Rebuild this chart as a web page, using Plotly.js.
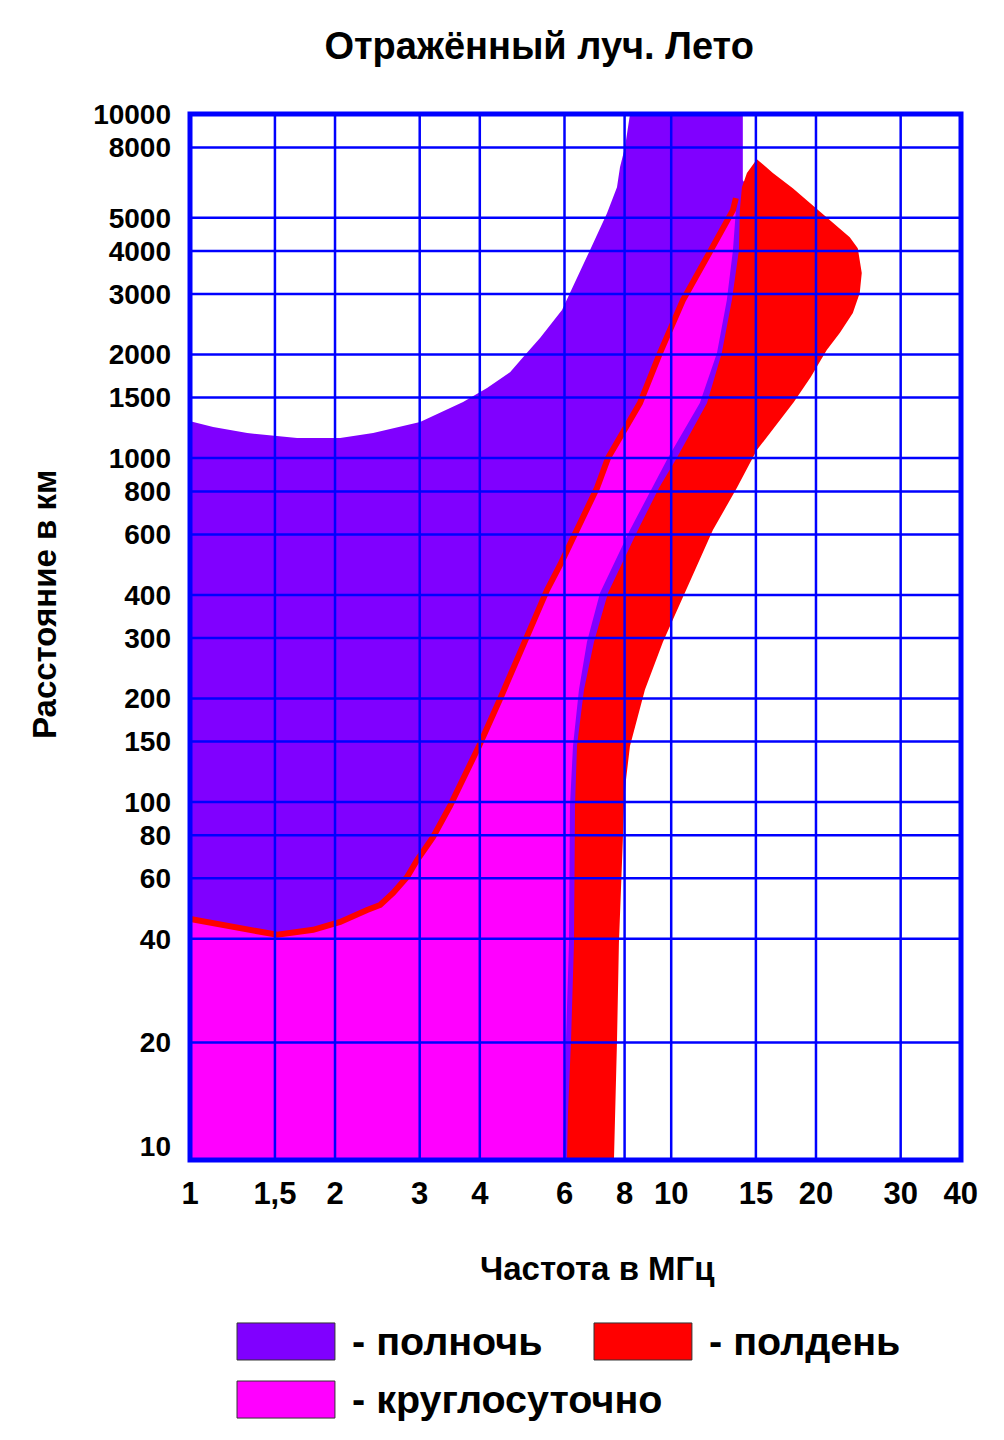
<!DOCTYPE html>
<html>
<head>
<meta charset="utf-8">
<script src="https://cdn.plot.ly/plotly-3.0.1.min.js"></script>
<style>
  html, body { margin: 0; padding: 0; background: #ffffff; }
  #chart { width: 1004px; height: 1440px; }
</style>
</head>
<body>
<div id="chart"></div>
<script>
// ---------- text ----------
const chartTitle = 'Отражённый луч. Лето';
const xTitle = 'Частота в МГц';
const yTitle = 'Расстояние в км';
const seriesNames = ['полночь', 'круглосуточно', 'полдень'];

// ---------- axis ticks ----------
const freqTicks = [1, 1.5, 2, 3, 4, 6, 8, 10, 15, 20, 30, 40];
const freqTickText = ['1', '1,5', '2', '3', '4', '6', '8', '10', '15', '20', '30', '40'];
const distTicks = [10, 20, 40, 60, 80, 100, 150, 200, 300, 400, 600, 800, 1000, 1500, 2000, 3000, 4000, 5000, 8000, 10000];
const distTickText = ['10', '20', '40', '60', '80', '100', '150', '200', '300', '400', '600', '800', '1000', '1500', '2000', '3000', '4000', '5000', '8000', '10000'];
const freqMin = 1, freqMax = 40;
const distMin = 9.1, distMax = 10000;

// ---------- "полночь" (midnight) area ----------
// upper-left boundary, from the left edge to the top of the chart
const nightTopFreq = [1.00, 1.116, 1.314, 1.523, 1.668, 2.050, 2.400, 3.005, 3.692, 4.141, 4.623, 4.966, 5.337, 5.929, 6.249, 6.778, 7.354, 7.714, 7.826, 8.015, 8.209];
const nightTopDist = [1280, 1231, 1182, 1159, 1143, 1143, 1182, 1273, 1455, 1598, 1778, 1993, 2233, 2693, 3142, 4024, 5154, 6134, 7013, 8020, 10000];
// right boundary, from the top down to the bottom
const nightRightFreq = [14.09, 14.09, 14.43, 14.30, 13.76, 13.12, 12.21, 10.58, 9.703, 8.776, 7.603, 7.111, 6.778, 6.524, 6.461, 6.430, 6.339, 6.219, 6.189];
const nightRightDist = [10000, 6430, 6134, 4024, 2879, 2020, 1445, 1000, 818, 618, 405, 292, 212, 145.5, 97.4, 38.9, 20.06, 12.47, 9.1];

// ---------- "круглосуточно" (all day) area ----------
// upper boundary (drawn as the red line)
const dayTopFreq = [1.00, 1.116, 1.314, 1.516, 1.801, 2.050, 2.332, 2.482, 2.641, 2.824, 2.963, 3.199, 3.469, 3.985, 4.407, 4.943, 5.517, 5.900, 6.370, 7.008, 7.389, 8.610, 9.474, 10.58, 12.09, 13.44, 13.63];
const dayTopDist = [45.7, 44.5, 42.5, 41.1, 42.5, 44.8, 48.5, 50.2, 54.4, 60.5, 67.8, 79.1, 97.4, 145.5, 199.3, 292, 413, 495, 618, 818, 1000, 1445, 2020, 2879, 4024, 5258, 5699];
// right boundary, from the tip down to the bottom
const dayRightFreq = [13.63, 13.44, 13.05, 12.45, 11.47, 9.843, 9.120, 8.209, 7.111, 6.681, 6.430, 6.249, 6.159, 6.130, 6.042, 5.985, 5.957];
const dayRightDist = [5258, 4024, 2879, 2020, 1445, 1000, 818, 618, 405, 292, 212, 145.5, 97.4, 38.9, 20.06, 12.47, 9.1];

// ---------- "полдень" (noon) area ----------
// right boundary, from the peak down to the bottom
const noonRightFreq = [15.07, 16.27, 17.90, 19.70, 21.36, 23.51, 24.43, 24.90, 24.66, 23.86, 22.41, 21.06, 19.51, 17.99, 15.07, 13.69, 12.21, 10.68, 9.611, 8.818, 8.486, 8.209, 8.053, 7.976, 7.938, 7.862, 7.786, 7.714, 7.640, 7.603];
const noonRightDist = [7400, 6740, 6093, 5439, 4919, 4389, 4078, 3450, 3018, 2640, 2309, 2061, 1720, 1455, 1055, 818, 618, 405, 292, 212, 173, 145.5, 115.9, 97.4, 79.1, 58.1, 38.9, 20.06, 12.47, 9.1];
// left boundary, from the peak down to the bottom
const noonLeftFreq = [15.07, 14.37, 14.03, 13.89, 13.83, 13.37, 12.74, 11.87, 10.27, 9.430, 8.527, 7.389, 6.909, 6.587, 6.370, 6.309, 6.279, 6.189, 6.101, 6.072];
const noonLeftDist = [7400, 6740, 6134, 5258, 4024, 2879, 2020, 1445, 1000, 818, 618, 405, 292, 212, 145.5, 97.4, 38.9, 20.06, 12.47, 9.1];

// ---------- colours ----------
const colNight = '#8000ff';
const colDay = '#ff00ff';
const colNoon = '#ff0000';
const colGrid = '#0000ff';

// ---------- build polygons ----------
const nightX = nightTopFreq.concat(nightRightFreq, [freqMin]);
const nightY = nightTopDist.concat(nightRightDist, [distMin]);
const dayX = dayTopFreq.concat(dayRightFreq, [freqMin]);
const dayY = dayTopDist.concat(dayRightDist, [distMin]);
const noonX = noonRightFreq.concat(noonLeftFreq.slice().reverse());
const noonY = noonRightDist.concat(noonLeftDist.slice().reverse());

function area(x, y, color, name) {
  return {
    type: 'scatter', mode: 'lines', x: x, y: y, name: name,
    fill: 'toself', fillcolor: color,
    line: { width: 0, color: color },
    hoverinfo: 'skip', showlegend: false
  };
}

const traces = [
  area(nightX, nightY, colNight, seriesNames[0]),
  area(dayX, dayY, colDay, seriesNames[1]),
  area(noonX, noonY, colNoon, seriesNames[2]),
  {
    type: 'scatter', mode: 'lines', x: dayTopFreq, y: dayTopDist,
    line: { color: colNoon, width: 6 }, hoverinfo: 'skip', showlegend: false
  }
];

// ---------- grid (drawn above the areas, as in the original) ----------
const shapes = [];
freqTicks.slice(1, -1).forEach(v => shapes.push({
  type: 'line', xref: 'x', yref: 'paper', x0: v, x1: v, y0: 0, y1: 1,
  line: { color: colGrid, width: 2.5 }, layer: 'above'
}));
distTicks.slice(1, -1).forEach(v => shapes.push({
  type: 'line', xref: 'paper', yref: 'y', x0: 0, x1: 1, y0: v, y1: v,
  line: { color: colGrid, width: 2.5 }, layer: 'above'
}));
shapes.push({
  type: 'rect', xref: 'paper', yref: 'paper', x0: 0, x1: 1, y0: 0, y1: 1,
  line: { color: colGrid, width: 5 }, fillcolor: 'rgba(0,0,0,0)', layer: 'above'
});

// legend boxes
const legendBoxes = [
  { x0: 0.061, x1: 0.188, y0: -0.1558, y1: -0.1912, c: colNight },
  { x0: 0.524, x1: 0.651, y0: -0.1558, y1: -0.1912, c: colNoon },
  { x0: 0.061, x1: 0.188, y0: -0.2113, y1: -0.2467, c: colDay }
];
legendBoxes.forEach(b => shapes.push({
  type: 'rect', xref: 'paper', yref: 'paper', x0: b.x0, x1: b.x1, y0: b.y0, y1: b.y1,
  fillcolor: b.c, line: { color: '#333333', width: 1 }, layer: 'above'
}));

const fontFam = 'Liberation Sans, Arial, sans-serif';

const annotations = [
  { text: xTitle, xref: 'paper', yref: 'paper', x: 0.528, y: -0.1033, xanchor: 'center', yanchor: 'middle',
    showarrow: false, font: { family: fontFam, size: 33, weight: 'bold', color: '#000' } },
  { text: yTitle, xref: 'paper', yref: 'paper', x: -0.188, y: 0.5306, xanchor: 'center', yanchor: 'middle',
    textangle: -90, showarrow: false, font: { family: fontFam, size: 33, weight: 'bold', color: '#000' } },
  { text: '- ' + seriesNames[0], xref: 'paper', yref: 'paper', x: 0.208, y: -0.173, xanchor: 'left', yanchor: 'middle',
    showarrow: false, font: { family: fontFam, size: 39.5, weight: 'bold', color: '#000' } },
  { text: '- ' + seriesNames[2], xref: 'paper', yref: 'paper', x: 0.670, y: -0.173, xanchor: 'left', yanchor: 'middle',
    showarrow: false, font: { family: fontFam, size: 39.5, weight: 'bold', color: '#000' } },
  { text: '- ' + seriesNames[1], xref: 'paper', yref: 'paper', x: 0.208, y: -0.2285, xanchor: 'left', yanchor: 'middle',
    showarrow: false, font: { family: fontFam, size: 39.5, weight: 'bold', color: '#000' } }
];

const layout = {
  width: 1004, height: 1440,
  margin: { l: 190, r: 43, t: 114, b: 280 },
  paper_bgcolor: '#ffffff', plot_bgcolor: '#ffffff',
  title: {
    text: chartTitle, xref: 'container', yref: 'container', x: 0.537, y: 0.968,
    xanchor: 'center', yanchor: 'middle',
    font: { family: fontFam, size: 38, weight: 'bold', color: '#000' }
  },
  xaxis: {
    type: 'log', range: [Math.log10(freqMin) - 0.0005, Math.log10(freqMax) + 0.0005],
    tickmode: 'array', tickvals: freqTicks, ticktext: freqTickText,
    showgrid: false, zeroline: false, showline: false, ticks: '',
    ticklabelstandoff: 12,
    tickfont: { family: fontFam, size: 31, weight: 'bold', color: '#000' }
  },
  yaxis: {
    type: 'log', range: [Math.log10(distMin), Math.log10(distMax) + 0.0005],
    tickmode: 'array', tickvals: distTicks, ticktext: distTickText,
    showgrid: false, zeroline: false, showline: false, ticks: '',
    ticklabelstandoff: 18,
    tickfont: { family: fontFam, size: 28, weight: 'bold', color: '#000' }
  },
  shapes: shapes,
  annotations: annotations,
  showlegend: false
};

Plotly.newPlot('chart', traces, layout, { staticPlot: true, displayModeBar: false });
</script>
</body>
</html>
